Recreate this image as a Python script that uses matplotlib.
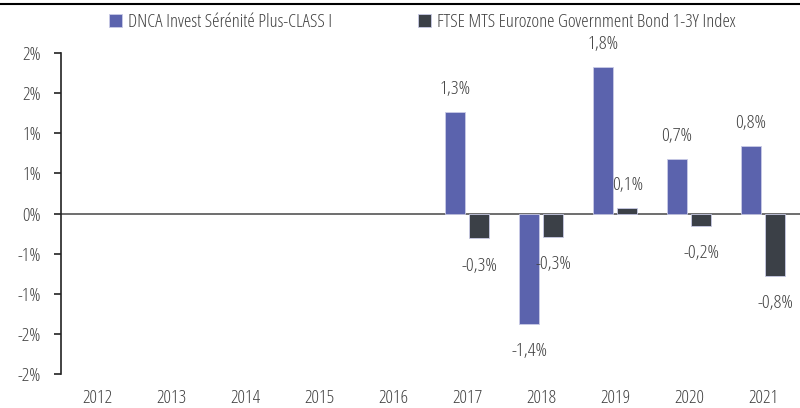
import numpy as np
import matplotlib.pyplot as plt
from matplotlib.lines import Line2D

years = ['2012', '2013', '2014', '2015', '2016', '2017', '2018', '2019', '2020', '2021']
fund = [np.nan, np.nan, np.nan, np.nan, np.nan, 1.27, -1.37, 1.83, 0.68, 0.84]  # DNCA, %
index = [np.nan, np.nan, np.nan, np.nan, np.nan, -0.31, -0.29, 0.07, -0.16, -0.78]  # FTSE MTS, %
fund_name = 'DNCA Invest Sérénité Plus-CLASS I'
index_name = 'FTSE MTS Eurozone Government Bond 1-3Y Index'
yticks = [-2, -1.5, -1, -0.5, 0, 0.5, 1, 1.5, 2]
ytick_labels = ['-2%', '-2%', '-1%', '-1%', '0%', '1%', '1%', '2%', '2%']

purple = '#5b63ad'
dark = '#3b4047'
txt = '#404040'

plt.rcParams['font.family'] = ['Open Sans', 'DejaVu Sans']
plt.rcParams['font.stretch'] = 'condensed'
plt.rcParams['font.weight'] = 300
plt.rcParams['font.size'] = 13.5

fig = plt.figure(figsize=(8, 4.08), dpi=100)
ax = fig.add_axes([0.076, 0.083, 0.924, 0.787])

x = np.arange(len(years))
w = 0.27
off = 0.163
ax.bar(x - off, fund, w, color=purple, edgecolor='#c9cbe6', linewidth=0.6, label=fund_name)
ax.bar(x + off, index, w, color=dark, edgecolor='#c9cbe6', linewidth=0.6, label=index_name)

def fmt(v):
    return f'{v:.1f}'.replace('.', ',') + '%'

for xs, vals in ((x - off, fund), (x + off, index)):
    for xi, v in zip(xs, vals):
        if np.isnan(v):
            continue
        if v >= 0:
            ax.annotate(fmt(v), (xi, v), xytext=(0, 10), textcoords='offset points',
                        ha='center', va='bottom', color=txt, fontsize=14)
        else:
            ax.annotate(fmt(v), (xi, v), xytext=(0, -13), textcoords='offset points',
                        ha='center', va='top', color=txt, fontsize=14)

ax.axhline(0, color='#555555', lw=1.2, zorder=0)
ax.set_xlim(-0.5, len(years) - 0.5)
ax.set_ylim(-2, 2)
ax.set_yticks(yticks)
ax.set_yticklabels(ytick_labels)
ax.set_xticks(x)
ax.set_xticklabels(years)
ax.tick_params(axis='x', length=0, pad=11, colors=txt)
ax.tick_params(axis='y', length=5, width=1.2, pad=9, colors=txt, direction='out')
ax.tick_params(axis='y', color='#222222')
for s in ['top', 'right', 'bottom']:
    ax.spines[s].set_visible(False)
ax.spines['left'].set_linewidth(1.2)
ax.spines['left'].set_color('#222222')

fig.legend(loc='center', bbox_to_anchor=(0.528, 0.945), ncol=2, frameon=False,
           handlelength=0.7, handleheight=0.7, handletextpad=0.3, columnspacing=4.6,
           fontsize=13.5, labelcolor=txt)

fig.add_artist(Line2D([0, 1], [0.99, 0.99], color='black', lw=1.5, transform=fig.transFigure))

fig.savefig('out.png', dpi=100)
